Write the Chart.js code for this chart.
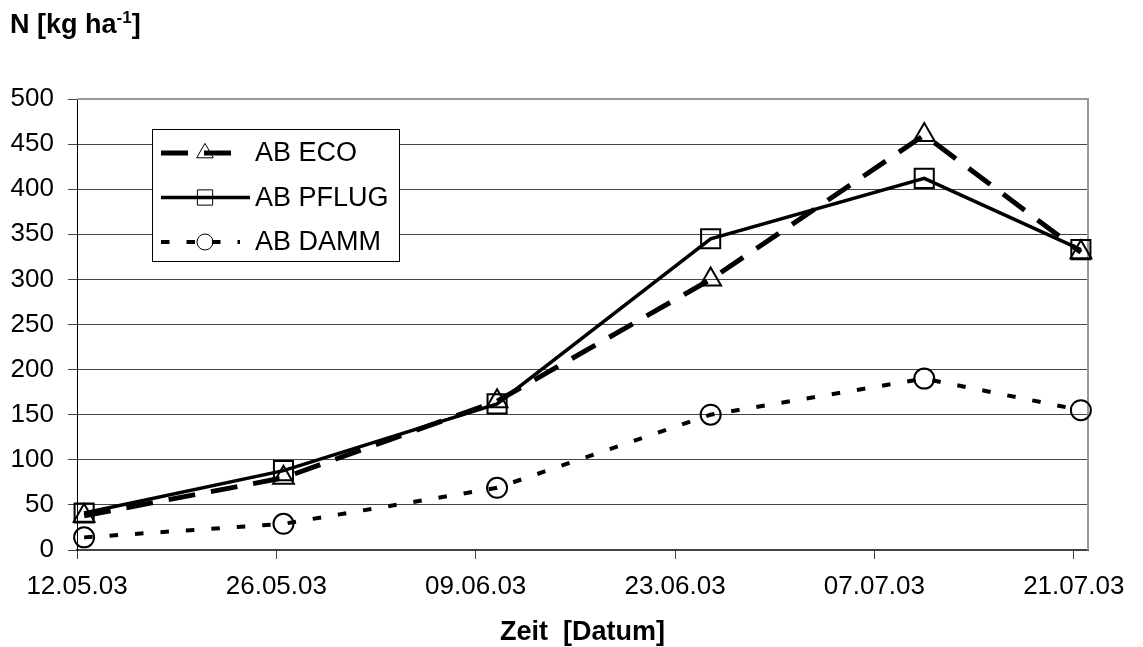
<!DOCTYPE html>
<html>
<head>
<meta charset="utf-8">
<script src="https://cdn.jsdelivr.net/npm/chart.js@4.4.0/dist/chart.umd.min.js"></script>
<style>
  html, body { margin: 0; padding: 0; background: #fff; }
  #wrap { width: 1143px; height: 647px; }
</style>
</head>
<body>
<div id="wrap"><canvas id="chart" width="1143" height="647"></canvas></div>
<script>
// sampling dates (dd.mm.yy) and N amount in kg/ha per variant
var dates = ['12.05.03', '26.05.03', '10.06.03', '25.06.03', '10.07.03', '21.07.03'];
var abEco = [38, 80, 165, 300, 460, 330];
var abPflug = [41, 88, 162, 345, 412, 333];
var abDamm = [14, 29, 69, 150, 190, 155];
var seriesNames = ['AB ECO', 'AB PFLUG', 'AB DAMM'];

var tickDates = ['12.05.03', '26.05.03', '09.06.03', '23.06.03', '07.07.03', '21.07.03'];
var yMin = 0, yMax = 500, yStep = 50;

var FONT = '"Liberation Sans", Arial, sans-serif';

function dayNo(s) {
  var p = s.split('.');
  return Date.UTC(2000 + parseInt(p[2], 10), parseInt(p[1], 10) - 1, parseInt(p[0], 10)) / 86400000;
}

var firstDay = dayNo(tickDates[0]);

// excel puts every point in the middle of its day
function toPoints(vals) {
  return vals.map(function(v, i) { return { x: dayNo(dates[i]) + 0.5, y: v }; });
}

var black = '#000';
var hollow = 'rgba(0,0,0,0)';

/******************************** PLUGINS *******************************/

var frame = {
  id: 'frame',
  beforeDatasetsDraw: function(chart) {
    var a = chart.chartArea, ctx = chart.ctx;
    ctx.save();
    ctx.strokeStyle = '#999';
    ctx.lineWidth = 2;
    ctx.beginPath();
    ctx.moveTo(a.left, a.top);
    ctx.lineTo(a.right, a.top);
    ctx.lineTo(a.right, a.bottom);
    ctx.stroke();
    ctx.restore();
  }
};

var texts = {
  id: 'texts',
  afterDraw: function(chart) {
    var ctx = chart.ctx, a = chart.chartArea;
    ctx.save();
    ctx.fillStyle = black;
    ctx.textBaseline = 'alphabetic';
    ctx.textAlign = 'left';
    ctx.font = 'bold 27px ' + FONT;
    var x = 10, base = 33;
    ctx.fillText('N [kg ha', x, base);
    x += ctx.measureText('N [kg ha').width;
    ctx.font = 'bold 17px ' + FONT;
    ctx.fillText('-1', x, base - 10);
    x += ctx.measureText('-1').width;
    ctx.font = 'bold 27px ' + FONT;
    ctx.fillText(']', x, base);

    ctx.textAlign = 'center';
    ctx.fillText('Zeit  [Datum]', (a.left + a.right) / 2, 640);
    ctx.restore();
  }
};

var legendBox = {
  id: 'legendBox',
  afterDatasetsDraw: function(chart) {
    var ctx = chart.ctx;
    ctx.save();
    ctx.fillStyle = '#fff';
    ctx.fillRect(152.5, 129.5, 247, 132);
    ctx.strokeStyle = black;
    ctx.lineWidth = 1;
    ctx.strokeRect(152.5, 129.5, 247, 132);

    chart.data.datasets.forEach(function(ds, i) {
      var y = 153 + i * 44.5;
      ctx.save();
      ctx.strokeStyle = black;
      ctx.lineWidth = ds.borderWidth;
      ctx.setLineDash(ds.borderDash || []);
      ctx.beginPath();
      ctx.moveTo(161, y);
      ctx.lineTo(i == 1 ? 250 : 240, y);
      ctx.stroke();
      ctx.restore();

      ctx.strokeStyle = black;
      ctx.fillStyle = hollow;
      Chart.helpers.drawPoint(ctx, {
        pointStyle: ds.pointStyle,
        radius: ds.pointRadius * 0.8,
        rotation: 0,
        borderWidth: ds.pointBorderWidth
      }, 205, y);

      ctx.fillStyle = black;
      ctx.font = '27px ' + FONT;
      ctx.textAlign = 'left';
      ctx.textBaseline = 'middle';
      ctx.fillText(ds.label, 255, y + 1);
    });
    ctx.restore();
  }
};

/******************************** CHART *******************************/

var data = {
  datasets: [{
    label: seriesNames[0],
    data: toPoints(abEco),
    borderColor: black,
    borderWidth: 5,
    borderDash: [27, 16],
    pointStyle: 'triangle',
    pointRadius: 12,
    pointBorderWidth: 2,
    pointBorderColor: black,
    pointBackgroundColor: hollow
  }, {
    label: seriesNames[1],
    data: toPoints(abPflug),
    borderColor: black,
    borderWidth: 3.5,
    pointStyle: 'rect',
    pointRadius: 13.5,
    pointBorderWidth: 2,
    pointBorderColor: black,
    pointBackgroundColor: hollow
  }, {
    label: seriesNames[2],
    data: toPoints(abDamm),
    borderColor: black,
    borderWidth: 4,
    borderDash: [8.5, 17],
    pointStyle: 'circle',
    pointRadius: 10,
    pointBorderWidth: 2,
    pointBorderColor: black,
    pointBackgroundColor: hollow
  }]
};

var config = {
  type: 'line',
  data: data,
  options: {
    responsive: false,
    devicePixelRatio: 1,
    animation: false,
    clip: false,
    layout: { padding: { top: 99, right: 55, bottom: 0, left: 0 } },
    plugins: {
      legend: { display: false },
      tooltip: { enabled: false }
    },
    scales: {
      x: {
        type: 'linear',
        min: firstDay,
        max: firstDay + 71,
        afterFit: function(s) { s.height = 97; },
        afterBuildTicks: function(s) {
          s.ticks = tickDates.map(function(d) { return { value: dayNo(d) }; });
        },
        ticks: {
          autoSkip: false,
          maxRotation: 0,
          padding: 12,
          color: black,
          font: { family: FONT, size: 26 },
          callback: function(v, i) { return tickDates[i]; }
        },
        grid: { drawOnChartArea: false, drawTicks: true, tickLength: 9, color: '#444' },
        border: { display: true, color: '#444', width: 2 }
      },
      y: {
        min: yMin,
        max: yMax,
        afterFit: function(s) { s.width = 77; },
        ticks: {
          stepSize: yStep,
          padding: 14,
          color: black,
          font: { family: FONT, size: 26 }
        },
        grid: { color: '#444', lineWidth: 1, tickLength: 9 },
        border: { display: true, color: black, width: 1 }
      }
    }
  },
  plugins: [frame, legendBox, texts]
};

var myChart = new Chart(document.getElementById('chart'), config);
</script>
</body>
</html>
